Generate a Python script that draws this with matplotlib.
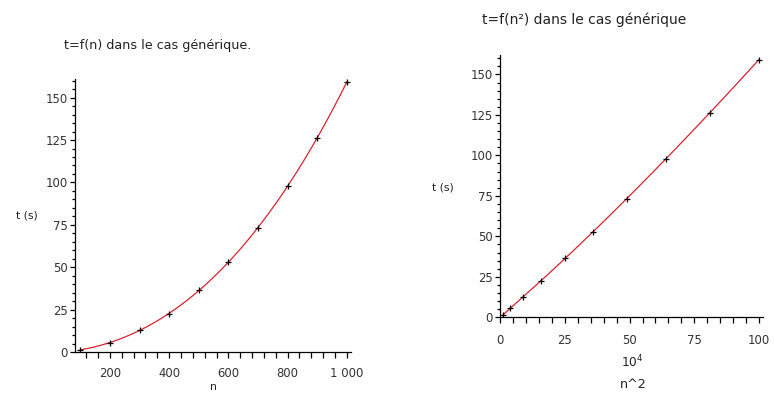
import numpy as np
import matplotlib
matplotlib.use("Agg")
import matplotlib.pyplot as plt
from matplotlib.ticker import FixedLocator, FixedFormatter, MultipleLocator

# ---- data ----
n_values = [100, 200, 300, 400, 500, 600, 700, 800, 900, 1000]
t_values = [1.3, 5.5, 12.8, 22.6, 36.6, 52.8, 73.2, 98.0, 126.4, 159.2]
n2_scale = 1e4  # x of right panel is n^2 / 10^4

left_xticks = [200, 400, 600, 800, 1000]
left_xticklabels = ["200", "400", "600", "800", "1 000"]
right_xticks = [0, 25, 50, 75, 100]
right_xticklabels = ["0", "25", "50", "75", "100"]
yticks = [0, 25, 50, 75, 100, 125, 150]
yticklabels = ["0", "25", "50", "75", "100", "125", "150"]

title_left = "t=f(n) dans le cas générique."
title_right = "t=f(n²) dans le cas générique"

# ---- figure ----
W, H = 774, 394
fig = plt.figure(figsize=(W / 100, H / 100), dpi=100)
plt.rcParams['font.family'] = ['DejaVu Sans']

n = np.array(n_values, dtype=float)
t = np.array(t_values, dtype=float)
coef = np.polyfit(n, t, 3)
n_fine = np.linspace(n.min(), n.max(), 300)
t_fine = np.polyval(coef, n_fine)

line_color = '#d42530'

def style(ax, xmin, xmax, ymax, xt, xtl, xminor, xpad):
    ax.set_xlim(xmin, xmax)
    ax.set_ylim(0, ymax)
    for s in ['top', 'right']:
        ax.spines[s].set_visible(False)
    for s in ['left', 'bottom']:
        ax.spines[s].set_linewidth(0.9)
    ax.xaxis.set_major_locator(FixedLocator(xt))
    ax.xaxis.set_major_formatter(FixedFormatter(xtl))
    ax.xaxis.set_minor_locator(MultipleLocator(xminor))
    ax.yaxis.set_major_locator(FixedLocator(yticks))
    ax.yaxis.set_major_formatter(FixedFormatter(yticklabels))
    ax.yaxis.set_minor_locator(MultipleLocator(5))
    ax.tick_params(axis='x', which='major', length=4, width=0.9, pad=xpad,
                   labelsize=8.4, direction='out')
    ax.tick_params(axis='x', which='minor', length=4, width=0.9, direction='out')
    ax.tick_params(axis='y', which='major', length=3.5, width=0.9, pad=1.5,
                   labelsize=8.4, direction='out')
    ax.tick_params(axis='y', which='minor', length=2.2, width=0.9, direction='out')
    for lab in ax.get_xticklabels() + ax.get_yticklabels():
        lab.set_color('#333333')

# left panel
ax1 = fig.add_axes([75 / W, 1 - 352 / H, 276 / W, 273 / H])
ax1.plot(n_fine, t_fine, color=line_color, lw=0.9)
ax1.plot(n, t, linestyle='none', marker='+', color='black', ms=5, mew=0.9)
style(ax1, 82, 1014, 161, left_xticks, left_xticklabels, 40, 6.5)

# right panel
ax2 = fig.add_axes([500 / W, 1 - 317.3 / H, 263 / W, 262.3 / H])
ax2.plot(n_fine ** 2 / n2_scale, t_fine, color=line_color, lw=0.9)
ax2.plot(n ** 2 / n2_scale, t, linestyle='none', marker='+', color='black', ms=5, mew=0.9)
style(ax2, 0, 101.5, 162, right_xticks, right_xticklabels, 5, 8)

# texts (figure pixel positions)
def ftext(x, y, s, size=7.5, **kw):
    fig.text(x / W, 1 - y / H, s, fontsize=size, ha='center', va='center',
             color='#222222', **kw)

ftext(158, 45, title_left, size=9.2)
ftext(27, 215, "t (s)", size=7.8)
ftext(213, 387, "n", size=7.8)
ftext(584, 20, title_right, size=10.0)
ftext(443, 188, "t (s)", size=7.8)
ftext(632, 362, r"$\mathregular{10^4}$", size=8.8)
ftext(633, 385, "n^2", size=9.2)

fig.savefig("out.png", dpi=100)
